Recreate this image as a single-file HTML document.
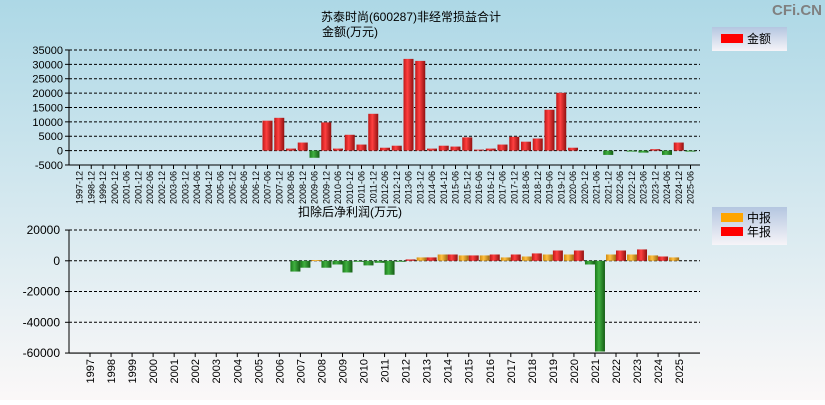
<!DOCTYPE html>
<html><head><meta charset="utf-8">
<style>
html,body{margin:0;padding:0;}
body{width:825px;height:400px;overflow:hidden;font-family:"Liberation Sans","Noto Sans CJK SC",sans-serif;}
svg text{font-family:"Liberation Sans","Noto Sans CJK SC",sans-serif;}
</style></head>
<body>
<svg id="c" width="825" height="400" xmlns="http://www.w3.org/2000/svg">
<defs>
<linearGradient id="bg" x1="0" y1="0" x2="0" y2="1"><stop offset="0" stop-color="#add8e6"/><stop offset="1" stop-color="#fbf8f8"/></linearGradient>
<linearGradient id="lg" x1="0" y1="0" x2="0" y2="1"><stop offset="0" stop-color="#b4c6e0"/><stop offset="1" stop-color="#f6f4f8"/></linearGradient>
<linearGradient id="gr" x1="0" y1="0" x2="1" y2="0"><stop offset="0" stop-color="#c01818"/><stop offset="0.4" stop-color="#ff4040"/><stop offset="1" stop-color="#901010"/></linearGradient>
<linearGradient id="gg" x1="0" y1="0" x2="1" y2="0"><stop offset="0" stop-color="#1a7a1a"/><stop offset="0.4" stop-color="#40b040"/><stop offset="1" stop-color="#145c14"/></linearGradient>
<linearGradient id="go" x1="0" y1="0" x2="1" y2="0"><stop offset="0" stop-color="#d08a10"/><stop offset="0.4" stop-color="#ffc040"/><stop offset="1" stop-color="#a06a10"/></linearGradient>
</defs>
<rect x="0" y="0" width="825" height="400" fill="url(#bg)"/>
<text x="822" y="15" text-anchor="end" font-size="15" font-weight="bold" fill="#808080">CFi.CN</text>
<text x="411" y="21" text-anchor="middle" font-size="12">苏泰时尚(600287)非经常损益合计</text>
<text x="350" y="36" text-anchor="middle" font-size="12">金额(万元)</text>
<text x="350" y="216" text-anchor="middle" font-size="12">扣除后净利润(万元)</text>
<g>
<rect x="712" y="27" width="75" height="24" fill="url(#lg)"/>
<rect x="721" y="34" width="22" height="9" fill="#ff0000"/>
<text x="747" y="43" font-size="12">金额</text>
</g>
<g>
<rect x="712" y="207" width="75" height="38" fill="url(#lg)"/>
<rect x="721" y="213" width="22" height="9" fill="#ffa500"/>
<text x="747" y="222" font-size="12">中报</text>
<rect x="721" y="227" width="22" height="9" fill="#ff0000"/>
<text x="747" y="236" font-size="12">年报</text>
</g>
<g id="top"></g>
<g id="bot"></g>
</svg>
<script>
const topCats=["1997-12","1998-12","1999-12","2000-12"];
for(let y=2001;y<=2025;y++){topCats.push(y+"-06");if(y<2025)topCats.push(y+"-12");}
const topValues=[0,0,0,0, 0,0,0,0,0,0,0,0,0,0,0,0, 10400,11400,700,2800,-2500,9800,700,5500,2100,12800,1000,1700,31900,31200,700,1700,1400,4600,350,700,2100,4800,3100,4200,14200,20100,1000,0,0,-1500,0,-300,-700,500,-1500,2800,-300];
const topTicks=[35000,30000,25000,20000,15000,10000,5000,0,-5000];
const botCats=[];for(let y=1997;y<=2025;y++)botCats.push(String(y));
const interimValues=[0,0,0,0,0,0,0,0,0,0,-7000,500,-2400,-500,-1300,-500,2200,4100,3500,3500,2200,2800,4100,4100,-2400,4100,4100,3500,2200];
const annualValues=[0,0,0,0,0,0,0,0,0,0,-4500,-4500,-7600,-3000,-9100,900,2200,4100,3500,4100,4100,4800,6700,6700,-59000,6700,7400,2800,null];
const botTicks=[20000,0,-20000,-40000,-60000];
const NS="http://www.w3.org/2000/svg";
function mk(p,t,a){const e=document.createElementNS(NS,t);for(const k in a)e.setAttribute(k,a[k]);p.appendChild(e);return e;}
const X0=69,X1=700;
// top chart
const tg=document.getElementById('top');
const tY=v=>150.6-(v/1000)*2.875;
const tX=i=>79.5+i*11.75;
topTicks.forEach(t=>{
 const l=mk(tg,'line',{x1:X0,x2:X1,y1:tY(t),y2:tY(t),stroke:'#000','stroke-dasharray':'3,2','stroke-width':1});
 
 const tk=mk(tg,'line',{x1:X0-4,x2:X0,y1:tY(t),y2:tY(t),stroke:'#000'});
 const tx=mk(tg,'text',{x:X0-6,y:tY(t)+4,'text-anchor':'end','font-size':11});tx.textContent=t;
 
});
mk(tg,'line',{x1:X0,x2:X0,y1:tY(35000),y2:tY(-5000),stroke:'#000'});
mk(tg,'line',{x1:X0,x2:X1,y1:tY(-5000),y2:tY(-5000),stroke:'#000'});
topCats.forEach((c,i)=>{
 const x=tX(i);
 mk(tg,'line',{x1:x,x2:x,y1:tY(-5000),y2:tY(-5000)+4,stroke:'#000'});
 const tx=mk(tg,'text',{x:0,y:0,'text-anchor':'end','font-size':9,transform:`translate(${x+3},${tY(-5000)+6}) rotate(-90)`});tx.textContent=c;
 
 const v=topValues[i];if(!v)return;
 const y0=tY(0),y1=tY(v);
 const r=mk(tg,'rect',{x:x-5,y:Math.min(y0,y1),width:10,height:Math.max(1,Math.abs(y1-y0)),fill:v>0?'url(#gr)':'url(#gg)'});
 
});
// bottom chart
const bg=document.getElementById('bot');
const bY=v=>260.8-(v/20000)*30.75;
const bX=i=>90+i*21.04;
botTicks.forEach(t=>{
 const l=mk(bg,'line',{x1:X0,x2:X1,y1:bY(t),y2:bY(t),stroke:'#000','stroke-dasharray':'3,2'});
 
 mk(bg,'line',{x1:X0-4,x2:X0,y1:bY(t),y2:bY(t),stroke:'#000'});
 const tx=mk(bg,'text',{x:X0-9,y:bY(t)+4,'text-anchor':'end','font-size':12});tx.textContent=t;
 
});
mk(bg,'line',{x1:X0,x2:X0,y1:bY(20000),y2:bY(-60000),stroke:'#000'});
mk(bg,'line',{x1:X0,x2:X1,y1:bY(-60000),y2:bY(-60000),stroke:'#000','stroke-width':1.2});
botCats.forEach((c,i)=>{
 const x=bX(i);
 mk(bg,'line',{x1:x,x2:x,y1:bY(-60000),y2:bY(-60000)+4,stroke:'#000'});
 const tx=mk(bg,'text',{x:0,y:0,'text-anchor':'end','font-size':11,transform:`translate(${x+4},${bY(-60000)+6}) rotate(-90)`});tx.textContent=c;
 
 [[interimValues[i],x-10,'url(#go)','interim'],[annualValues[i],x,'url(#gr)','annual']].forEach(([v,bx,f,n])=>{
  if(!v)return;
  const y0=bY(0),y1=bY(v);
  const r=mk(bg,'rect',{x:bx,y:Math.min(y0,y1),width:10,height:Math.max(1,Math.abs(y1-y0)),fill:v>0?f:'url(#gg)'});
  
 });
});
</script>
</body></html>
